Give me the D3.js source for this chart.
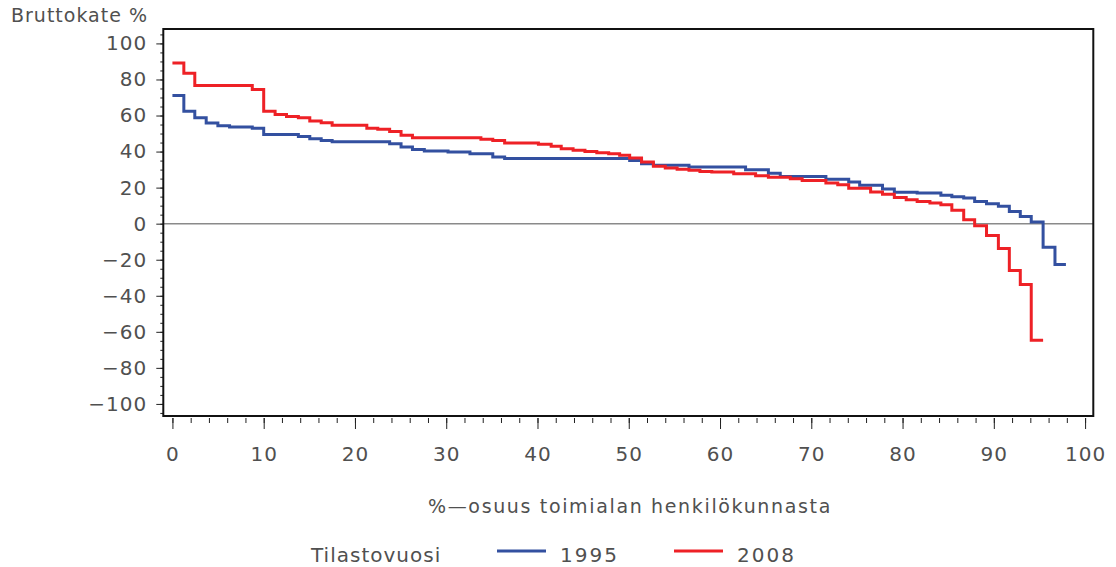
<!DOCTYPE html>
<html>
<head>
<meta charset="utf-8">
<script src="https://cdn.jsdelivr.net/npm/d3@7"></script>
<style>
  body { margin: 0; background: #fff; }
  svg text { font-family: "DejaVu Sans", sans-serif; fill: #505050; letter-spacing: 1px; }
</style>
</head>
<body>
<svg id="chart" width="1116" height="567"></svg>
<script>
// step start positions (% of personnel), last value is the end of the longest series
const shareBreaks = [0, 1.25, 2.45, 3.7, 4.98, 6.26, 7.5, 8.75, 10.0, 11.25, 12.5, 13.8, 15.05, 16.3, 17.5, 18.8, 20.0, 21.3, 22.5, 23.8,
  25.05, 26.3, 27.6, 28.9, 30.2, 31.4, 32.6, 33.8, 35.1, 36.4, 37.6, 38.9, 40.1, 41.5, 42.6, 43.9, 45.2, 46.5, 47.8, 49.0,
  50.1, 51.4, 52.7, 54.0, 55.3, 56.6, 57.8, 59.1, 60.3, 61.5, 62.8, 63.9, 65.3, 66.6, 67.7, 69.0, 70.3, 71.6, 72.9, 74.1,
  75.3, 76.5, 77.8, 79.1, 80.4, 81.6, 83.0, 84.2, 85.4, 86.7, 87.9, 89.2, 90.5, 91.7, 92.9, 94.1, 95.4, 96.7, 97.9];

// bruttokate % per step
const values1995 = [71.1, 62.4, 58.8, 55.8, 54.3, 53.6, 53.6, 53.0, 49.5, 49.5, 49.5, 48.4, 47.1, 46.2, 45.5, 45.5, 45.5, 45.5, 45.5, 44.4,
  42.5, 41.2, 40.3, 40.3, 39.8, 39.8, 38.8, 38.8, 37.0, 36.1, 36.1, 36.1, 36.1, 36.1, 36.1, 36.1, 36.1, 36.1, 36.1, 36.1,
  35.1, 33.3, 32.4, 32.4, 32.4, 31.4, 31.4, 31.4, 31.4, 31.4, 29.9, 29.9, 28.0, 26.2, 26.2, 26.2, 26.2, 24.7, 24.7, 23.1,
  21.3, 21.3, 19.2, 17.5, 17.5, 17.0, 17.0, 15.7, 15.0, 14.2, 12.3, 11.1, 9.6, 6.8, 4.0, 0.9, -13.1, -22.7];

const values2008 = [89.2, 83.5, 76.6, 76.6, 76.6, 76.6, 76.6, 74.4, 62.4, 60.6, 59.5, 58.8, 56.9, 56.0, 54.6, 54.6, 54.6, 53.0, 52.4, 51.2,
  49.0, 47.7, 47.7, 47.7, 47.7, 47.7, 47.7, 46.8, 46.2, 44.8, 44.8, 44.8, 44.0, 42.9, 41.6, 40.7, 40.1, 39.4, 38.8, 37.9,
  36.4, 34.2, 31.8, 30.9, 30.2, 29.6, 29.0, 28.6, 28.6, 27.7, 27.7, 26.6, 25.8, 25.8, 24.9, 24.0, 24.0, 22.5, 21.6, 19.7,
  19.7, 17.6, 16.3, 14.5, 13.3, 12.3, 11.4, 10.5, 7.4, 2.2, -1.1, -6.6, -13.8, -26.0, -33.8, -64.7];

const seriesNames = ['1995', '2008'];
const seriesColors = ['#3350a0', '#ee2126'];
const xTickValues = [0, 10, 20, 30, 40, 50, 60, 70, 80, 90, 100];
const yTickValues = [-100, -80, -60, -40, -20, 0, 20, 40, 60, 80, 100];

const svg = d3.select('#chart');
const frame = { left: 163.3, top: 29, right: 1093.3, bottom: 416 };

const x = d3.scaleLinear().domain([-1, 100.9]).range([frame.left, frame.right]);
const y = d3.scaleLinear().domain([-106.7, 108]).range([frame.bottom, frame.top]);

const fmt = (d) => (d < 0 ? '\u2212' + Math.abs(d) : String(d));

// y axis, minor ticks every 5
svg.append('g').attr('transform', `translate(${frame.left},0)`)
  .call(d3.axisLeft(y).tickValues(d3.range(-105, 106, 5)).tickSize(3).tickFormat(''))
  .call((g) => g.select('.domain').remove())
  .call((g) => g.selectAll('line').attr('stroke', '#222'));
svg.append('g').attr('transform', `translate(${frame.left},0)`)
  .call(d3.axisLeft(y).tickValues(yTickValues).tickSize(7).tickPadding(9).tickFormat(fmt))
  .call((g) => g.select('.domain').remove())
  .call((g) => g.selectAll('line').attr('stroke', '#222'))
  .call((g) => g.selectAll('text').attr('font-size', 20).attr('fill', '#505050'));

// x axis, minor ticks every 2
const xAxisY = frame.bottom + 2;
svg.append('g').attr('transform', `translate(0,${xAxisY})`)
  .call(d3.axisBottom(x).tickValues(d3.range(0, 101, 2)).tickSize(5).tickFormat(''))
  .call((g) => g.select('.domain').remove())
  .call((g) => g.selectAll('line').attr('stroke', '#222'));
svg.append('g').attr('transform', `translate(0,${xAxisY})`)
  .call(d3.axisBottom(x).tickValues(xTickValues).tickSize(11).tickPadding(18).tickFormat(fmt))
  .call((g) => g.select('.domain').remove())
  .call((g) => g.selectAll('line').attr('stroke', '#222'))
  .call((g) => g.selectAll('text').attr('font-size', 20).attr('fill', '#505050'));

// zero line
svg.append('line')
  .attr('x1', frame.left).attr('x2', frame.right)
  .attr('y1', y(0)).attr('y2', y(0))
  .attr('stroke', '#8a8a8a').attr('stroke-width', 1.5);

// step lines
const toPoints = (vals) => {
  const pts = vals.map((v, i) => [shareBreaks[i], v]);
  pts.push([shareBreaks[vals.length], vals[vals.length - 1]]);
  return pts;
};
const line = d3.line().x((d) => x(d[0])).y((d) => y(d[1])).curve(d3.curveStepAfter);

[values1995, values2008].forEach((vals, i) => {
  svg.append('path')
    .datum(toPoints(vals))
    .attr('d', line)
    .attr('fill', 'none')
    .attr('stroke', seriesColors[i])
    .attr('stroke-width', 3)
    .attr('stroke-linejoin', 'miter');
});

// frame
svg.append('rect')
  .attr('x', frame.left).attr('y', frame.top)
  .attr('width', frame.right - frame.left).attr('height', frame.bottom - frame.top)
  .attr('fill', 'none').attr('stroke', '#111').attr('stroke-width', 2);

// titles
svg.append('text').attr('x', 11).attr('y', 22).attr('font-size', 19).text('Bruttokate %');
svg.append('text').attr('x', 428).attr('y', 513).attr('font-size', 19)
  .style('letter-spacing', '1.65px').text('%\u2014osuus toimialan henkilökunnasta');

// legend
svg.append('text').attr('x', 311).attr('y', 562).attr('font-size', 20).text('Tilastovuosi');
const legendX = [497, 674];
seriesNames.forEach((name, i) => {
  svg.append('line')
    .attr('x1', legendX[i]).attr('x2', legendX[i] + 49)
    .attr('y1', 551).attr('y2', 551)
    .attr('stroke', seriesColors[i]).attr('stroke-width', 3);
  svg.append('text').attr('x', legendX[i] + 63).attr('y', 562).attr('font-size', 20).style('letter-spacing', '2px').text(name);
});
</script>
</body>
</html>
